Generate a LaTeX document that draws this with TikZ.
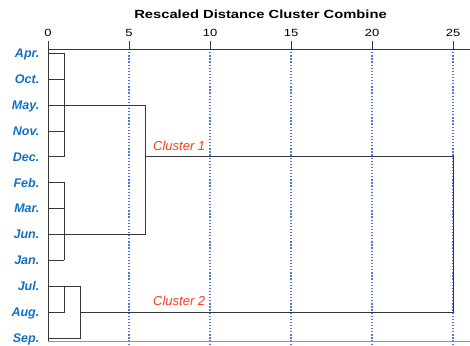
\documentclass[tikz,border=0pt]{standalone}
\usepackage{fontspec}
\setmainfont{Liberation Sans}
\newfontfamily\axisfont[FakeStretch=1.25]{Liberation Sans}
\usepackage{tikz}
\usetikzlibrary{positioning,calc}
\definecolor{mBlue}{RGB}{18,112,196}
\definecolor{cRed}{RGB}{250,60,30}
\definecolor{gBlue}{RGB}{78,118,220}
\definecolor{dLine}{RGB}{55,55,55}
\definecolor{bLine}{RGB}{150,150,150}
\tikzset{
  month/.style={anchor=base east, inner sep=0pt, text=mBlue,
                font=\fontsize{12.5}{14}\selectfont\bfseries\itshape},
  tlab/.style={anchor=base, inner sep=0pt,
               font=\axisfont\fontsize{10.4}{12}\selectfont},
  ttl/.style={anchor=base, inner sep=0pt,
              font=\axisfont\fontsize{11.8}{13}\selectfont\bfseries},
  clab/.style={anchor=base west, inner sep=0pt, text=cRed,
               font=\fontsize{13}{15}\selectfont\itshape},
  link/.style={draw=dLine, line width=0.95pt},
  axisln/.style={draw=dLine, line width=0.95pt},
  guide/.style={draw=gBlue, line width=1.3pt, dash pattern=on 1.3pt off 1.8pt},
}

\begin{document}
\begin{tikzpicture}[x=1pt, y=-1pt]
  \useasboundingbox (0,0) rectangle (470,345);

  % ===== Title and distance scale =======================================
  \node[ttl] (title) at (260.5,18.5) {Rescaled Distance Cluster Combine};
  \coordinate (g0)  at (48,49);
  \coordinate (g5)  at (129,49);
  \coordinate (g10) at (210,49);
  \coordinate (g15) at (291,49);
  \coordinate (g20) at (372,49);
  \coordinate (g25) at (453,49);
  \coordinate (gend) at (470,49);
  \coordinate (bot) at (48,341.5);
  \coordinate (botend) at (470,341.5);
  \node[tlab] (t0)  at ($(g0)+(0,-12.5)$)  {0};
  \node[tlab] (t5)  at ($(g5)+(0,-12.5)$)  {5};
  \node[tlab] (t10) at ($(g10)+(0,-12.5)$) {10};
  \node[tlab] (t15) at ($(g15)+(0,-12.5)$) {15};
  \node[tlab] (t20) at ($(g20)+(0,-12.5)$) {20};
  \node[tlab] (t25) at ($(g25)+(0,-12.5)$) {25};
  % dotted guides down from each tick
  \draw[guide] (g5)  -- ++(0,296);
  \draw[guide] (g10) -- ++(0,296);
  \draw[guide] (g15) -- ++(0,296);
  \draw[guide] (g20) -- ++(0,296);
  \draw[guide] (g25) -- ++(0,296);
  % axis frame
  \draw[axisln] (g0) -- (gend);
  \draw[axisln] ($(g0)+(0,-8)$) -- (bot);
  \draw[axisln] ($(g5)+(0,-8)$) -- (g5);
  \draw[axisln] ($(g10)+(0,-8)$) -- (g10);
  \draw[axisln] ($(g15)+(0,-8)$) -- (g15);
  \draw[axisln] ($(g20)+(0,-8)$) -- (g20);
  \draw[axisln] ($(g25)+(0,-8)$) -- (g25);
  \draw[draw=bLine, line width=1.2pt] (bot) -- (botend);

  % ===== Leaves (months) ================================================
  \coordinate (apr0) at (48,53.5);
  \coordinate (oct0) at (48,79.4);
  \coordinate (may0) at (48,105.2);
  \coordinate (nov0) at (48,131.1);
  \coordinate (dec0) at (48,156.9);
  \coordinate (feb0) at (48,182.8);
  \coordinate (mar0) at (48,208.7);
  \coordinate (jun0) at (48,234.5);
  \coordinate (jan0) at (48,260.4);
  \coordinate (jul0) at (48,286.2);
  \coordinate (aug0) at (48,312.1);
  \coordinate (sep0) at (48,338);
  \node[month] (apr) at ($(apr0)+(-8.5,4.2)$) {Apr.};
  \node[month] (oct) at ($(oct0)+(-8.5,4.2)$) {Oct.};
  \node[month] (may) at ($(may0)+(-8.5,4.2)$) {May.};
  \node[month] (nov) at ($(nov0)+(-8.5,4.2)$) {Nov.};
  \node[month] (dec) at ($(dec0)+(-8.5,4.2)$) {Dec.};
  \node[month] (feb) at ($(feb0)+(-8.5,4.2)$) {Feb.};
  \node[month] (mar) at ($(mar0)+(-8.5,4.2)$) {Mar.};
  \node[month] (jun) at ($(jun0)+(-8.5,4.2)$) {Jun.};
  \node[month] (jan) at ($(jan0)+(-8.5,4.2)$) {Jan.};
  \node[month] (jul) at ($(jul0)+(-8.5,4.2)$) {Jul.};
  \node[month] (aug) at ($(aug0)+(-8.5,4.2)$) {Aug.};
  \node[month] (sep) at ($(sep0)+(-8.5,4.2)$) {Sep.};

  % ===== Merge levels ===================================================
  \coordinate (d1)  at (64,0);
  \coordinate (d2)  at (80.5,0);
  \coordinate (d6)  at (145,0);
  \coordinate (d25) at (453,0);

  % Apr..Dec joined at 1, carried to 6 on the May row
  \draw[link] (apr0) -- (apr0 -| d1) -- (dec0 -| d1);
  \draw[link] (oct0) -- (oct0 -| d1);
  \draw[link] (nov0) -- (nov0 -| d1);
  \draw[link] (dec0) -- (dec0 -| d1);
  \draw[link] (may0) -- (may0 -| d6);
  % Feb..Jan joined at 1, carried to 6 on the Jun row
  \draw[link] (feb0) -- (feb0 -| d1) -- (jan0 -| d1);
  \draw[link] (mar0) -- (mar0 -| d1);
  \draw[link] (jan0) -- (jan0 -| d1);
  \draw[link] (jun0) -- (jun0 -| d6);
  % cluster 1 at 6
  \draw[link] (may0 -| d6) -- (jun0 -| d6);
  % Jul/Aug at 1, Sep at 2
  \draw[link] (jul0 -| d1) -- (aug0 -| d1) -- (aug0);
  \draw[link] (jul0) -- (jul0 -| d2) -- (sep0 -| d2) -- (sep0);
  % final join at 25
  \draw[link] (dec0 -| d6) -- (dec0 -| d25) -- (aug0 -| d25) -- (aug0 -| d2);

  \node[clab] (c1) at (153,150) {Cluster 1};
  \node[clab] (c2) at (153,305.5) {Cluster 2};
\end{tikzpicture}
\end{document}
